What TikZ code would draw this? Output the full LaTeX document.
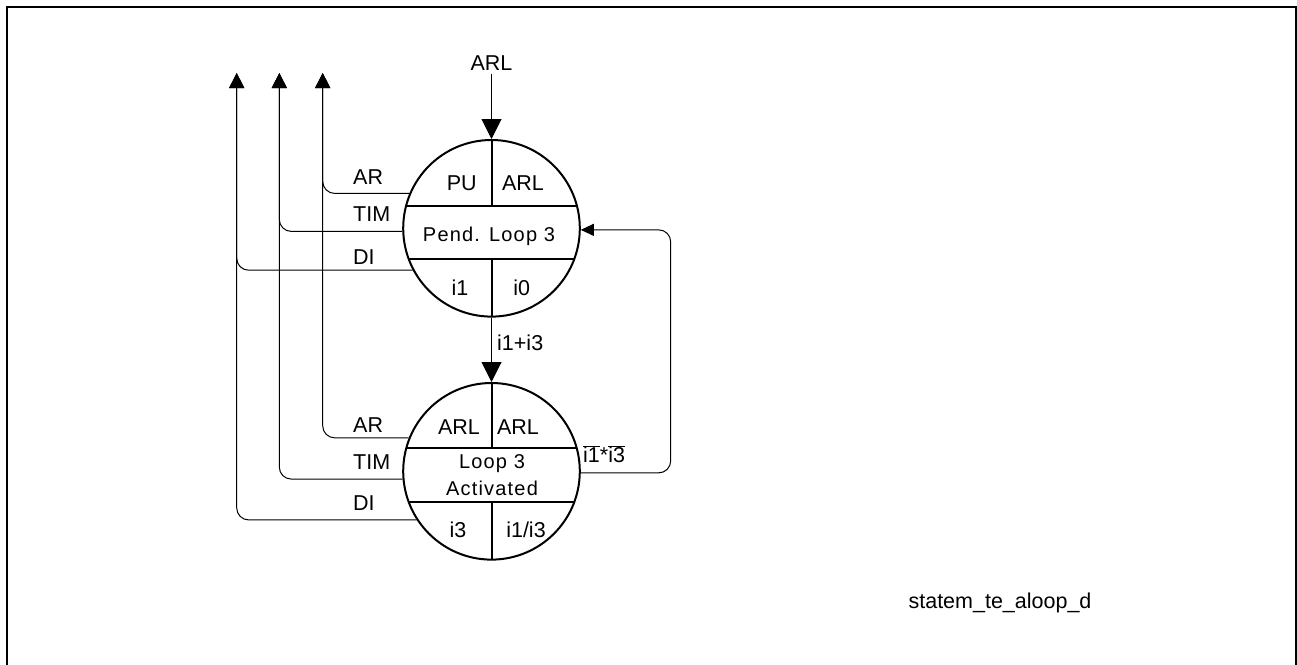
\documentclass[tikz,border=0pt]{standalone}
\usepackage{fontspec}
\setmainfont{Liberation Sans}
\usetikzlibrary{arrows.meta}
\begin{document}
\begin{tikzpicture}[x=1pt,y=-1pt,
  state/.style={circle,draw,line width=2pt,minimum size=176.6pt,inner sep=0pt},
  part/.style={line width=2pt},
  conn/.style={line width=1pt,rounded corners=12pt},
  lbl/.style={inner sep=0pt,font=\fontsize{21.5}{24}\selectfont},
  spaced/.style={inner sep=0pt,align=center,font=\fontsize{20}{26.5}\selectfont\addfontfeature{LetterSpace=6}},
  bigtip/.style={-{Triangle[length=20pt,width=20pt]}},
  uptip/.style={-{Triangle[length=15pt,width=15pt]}},
  fbtip/.style={-{Triangle[length=13pt,width=12pt]}}
]
\useasboundingbox (0,0) rectangle (1297,664);
\draw[line width=2pt] (7,7) rectangle (1295.5,680);

% states
\node[state] (s1) at (491.5,228.3) {};
\node[state] (s2) at (491.5,471.3) {};
\begin{scope}
  \clip (491.5,228.3) circle (88.3);
  \draw[part] (380,205.7) -- (600,205.7);
  \draw[part] (380,259.3) -- (600,259.3);
  \draw[part] (491.5,130) -- (491.5,205.7);
  \draw[part] (491.5,259.3) -- (491.5,330);
\end{scope}
\begin{scope}
  \clip (491.5,471.3) circle (88.3);
  \draw[part] (380,448.3) -- (600,448.3);
  \draw[part] (380,502.3) -- (600,502.3);
  \draw[part] (491.5,370) -- (491.5,448.3);
  \draw[part] (491.5,502.3) -- (491.5,580);
\end{scope}

% texts inside top state
\node[lbl] (pu) at (461.7,183) {PU};
\node[lbl] (arl1) at (523,183) {ARL};
\node[spaced] (pend) at (489,236.7) {Pend. Loop 3};
\node[lbl] (i1a) at (460,288) {i1};
\node[lbl] (i0) at (521.7,288) {i0};

% texts inside bottom state
\node[lbl] (arl2) at (459,426.7) {ARL};
\node[lbl] (arl3) at (518,426.7) {ARL};
\node[spaced] (act) at (492,475) {Loop 3\\Activated};
\node[lbl] (i3) at (458,530) {i3};
\node[lbl] (i13) at (526,530) {i1/i3};

% left labels
\node[lbl,anchor=west] (ar1) at (353,176.7) {AR};
\node[lbl,anchor=west] (tim1) at (353,214) {TIM};
\node[lbl,anchor=west] (di1) at (353,256.7) {DI};
\node[lbl,anchor=west] (ar2) at (353,425) {AR};
\node[lbl,anchor=west] (tim2) at (353,461.7) {TIM};
\node[lbl,anchor=west] (di2) at (353,503) {DI};

% exit arrows
\coordinate (tAR) at (322.7,73);
\coordinate (tTIM) at (279.3,73);
\coordinate (tDI) at (236.7,73);
\draw[conn,uptip] (s1.157.4) -| (tAR);
\draw[conn,uptip] (s1.182.6) -| (tTIM);
\draw[conn,uptip] (s1.208.7) -| (tDI);
\draw[conn,uptip] (s2.158) -| (tAR);
\draw[conn,uptip] (s2.185) -| (tTIM);
\draw[conn,uptip] (s2.213.5) -| (tDI);

% entry arrow
\node[lbl,inner sep=3pt] (arl) at (491.5,63) {ARL};
\draw[conn,bigtip] (arl) -- (s1);

% transition s1 -> s2
\draw[conn,bigtip] (s1.south) -- (s2.north);
\node[lbl,anchor=west] (cond) at (497,343) {i1+i3};

% feedback s2 -> s1
\coordinate (fb) at (670.7,350);
\draw[conn,fbtip] (s2.-1.3) -| (fb) |- (s1.-1.1);
\node[lbl,anchor=west] (neg) at (583,454) {$\overline{\mbox{i1}}$*$\overline{\mbox{i3}}$};

% figure name
\node[lbl] (name) at (1000,603) {statem\_te\_aloop\_d};
\end{tikzpicture}
\end{document}
